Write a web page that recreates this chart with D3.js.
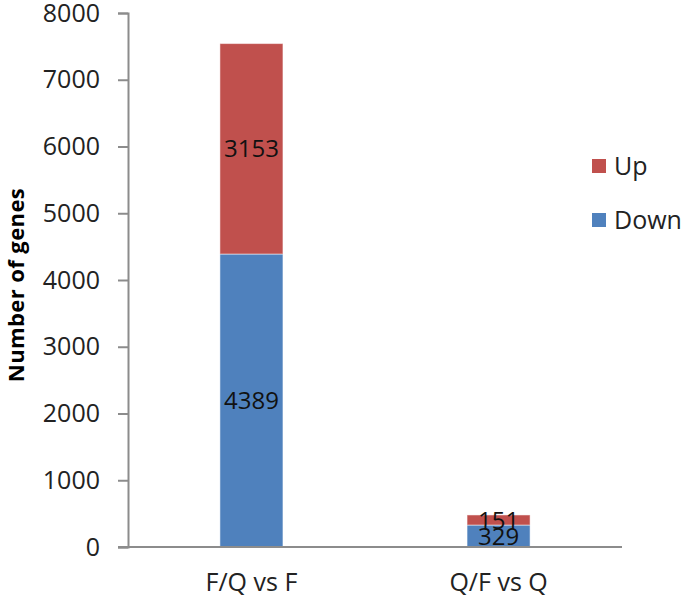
<!DOCTYPE html>
<html>
<head>
<meta charset="utf-8">
<script src="https://cdn.jsdelivr.net/npm/d3@7"></script>
<style>
  body { margin: 0; background: #fff; }
  text { font-family: "Open Sans", sans-serif; }
</style>
</head>
<body>
<div id="chart"></div>
<script>
// data
var categories = ["F/Q vs F", "Q/F vs Q"];
var downValues = [4389, 329];
var upValues = [3153, 151];
var seriesNames = ["Up", "Down"];
var yTicks = [0, 1000, 2000, 3000, 4000, 5000, 6000, 7000, 8000];

var width = 685;
var height = 601;
var margin = { top: 13, right: 63, bottom: 54, left: 128 };

var colors = { Up: "#C0504D", Down: "#4F81BD" };

var svg = d3.select("#chart")
  .append("svg")
  .attr("width", width)
  .attr("height", height);

var x = d3.scaleBand()
  .domain(categories)
  .range([margin.left, width - margin.right])
  .paddingInner(0.745)
  .paddingOuter(0.372);

var y = d3.scaleLinear()
  .domain([0, 8000])
  .range([height - margin.bottom, margin.top]);

var rows = categories.map(function(c, i) {
  return { cat: c, Down: downValues[i], Up: upValues[i] };
});
var stacked = d3.stack().keys(["Down", "Up"])(rows);

// y axis
var yAxis = svg.append("g")
  .attr("transform", "translate(" + margin.left + ",0)")
  .call(d3.axisLeft(y).tickValues(yTicks).tickFormat(d3.format("d")).tickSize(10).tickPadding(18));
yAxis.select(".domain").attr("stroke", "#8c8c8c").attr("stroke-width", 2);
yAxis.selectAll(".tick line").attr("stroke", "#8c8c8c").attr("stroke-width", 2);
yAxis.selectAll(".tick text")
  .style("font-size", "25px")
  .style("font-family", "'Open Sans', sans-serif")
  .attr("fill", "#222");

// bars
svg.append("g")
  .selectAll("g")
  .data(stacked)
  .join("g")
  .attr("fill", function(s) { return colors[s.key]; })
  .selectAll("rect")
  .data(function(s) { return s; })
  .join("rect")
  .attr("x", function(d) { return x(d.data.cat); })
  .attr("y", function(d) { return y(d[1]); })
  .attr("width", x.bandwidth())
  .attr("height", function(d) { return y(d[0]) - y(d[1]); })
  .attr("stroke", "rgba(255,255,255,0.5)")
  .attr("stroke-width", 1);

// x axis
var xAxis = svg.append("g")
  .attr("transform", "translate(0," + y(0) + ")")
  .call(d3.axisBottom(x).tickSize(0).tickPadding(26));
xAxis.select(".domain")
  .attr("stroke", "#8c8c8c")
  .attr("stroke-width", 2)
  .attr("d", "M" + (margin.left - 10) + ",0H" + (width - margin.right));
xAxis.selectAll(".tick text")
  .style("font-size", "25px")
  .style("font-family", "'Open Sans', sans-serif")
  .attr("fill", "#222");

// value labels
svg.append("g")
  .selectAll("g")
  .data(stacked)
  .join("g")
  .selectAll("text")
  .data(function(s) { return s; })
  .join("text")
  .attr("x", function(d) { return x(d.data.cat) + x.bandwidth() / 2; })
  .attr("y", function(d) { return y((d[0] + d[1]) / 2); })
  .attr("dy", "0.36em")
  .attr("text-anchor", "middle")
  .style("font-size", "24px")
  .attr("fill", "#111")
  .text(function(d) { return d[1] - d[0]; });

// y title
svg.append("text")
  .attr("transform", "translate(16," + 285 + ") rotate(-90)")
  .attr("text-anchor", "middle")
  .attr("dy", "0.35em")
  .style("font-size", "22px")
  .style("letter-spacing", "0.4px")
  .style("font-weight", "bold")
  .attr("fill", "#000")
  .text("Number of genes");

// legend
var legend = svg.append("g")
  .selectAll("g")
  .data(seriesNames)
  .join("g")
  .attr("transform", function(d, i) { return "translate(592," + (159 + i * 54) + ")"; });
legend.append("rect")
  .attr("width", 14)
  .attr("height", 14)
  .attr("fill", function(d) { return colors[d]; });
legend.append("text")
  .attr("x", 22)
  .attr("y", 7)
  .attr("dy", "0.36em")
  .style("font-size", "25px")
  .attr("fill", "#222")
  .text(function(d) { return d; });
</script>
</body>
</html>
